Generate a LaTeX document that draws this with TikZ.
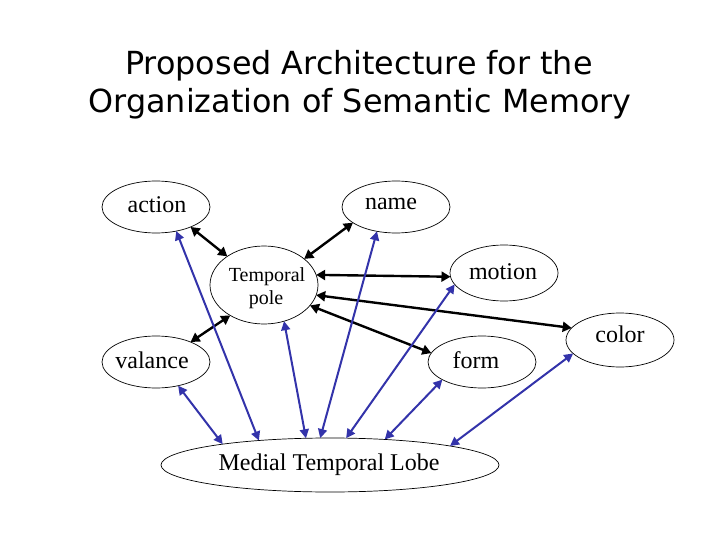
\documentclass[tikz,border=0pt]{standalone}
\usepackage{fontspec}
\setmainfont{Liberation Serif}
\newfontfamily\titlefont{DejaVu Sans}
\usetikzlibrary{arrows.meta,shapes.geometric}
\definecolor{linkblue}{RGB}{51,51,170}
\begin{document}
\begin{tikzpicture}[x=1pt,y=-1pt,
  ell/.style={draw,ellipse,inner sep=0pt,outer sep=0pt,line width=0.7pt,minimum width=108pt,minimum height=52pt},
  lbl/.style={anchor=base,inner sep=0pt,font=\fontsize{24}{28}\selectfont},
  small/.style={anchor=base,inner sep=0pt,font=\fontsize{20}{23}\selectfont},
  ttl/.style={anchor=base,inner sep=0pt,font=\titlefont\fontsize{31.8}{38}\selectfont},
  blk/.style={line width=2.4pt,{Triangle[length=9pt,width=10pt]}-{Triangle[length=9pt,width=10pt]}},
  blu/.style={line width=2pt,draw=linkblue,{Triangle[length=9pt,width=9pt]}-{Triangle[length=9pt,width=9pt]}}]
\useasboundingbox[fill=white] (0,0) rectangle (720,540);
% title
\node[ttl] (title1) at (359,75) {Proposed Architecture for the};
\node[ttl] (title2) at (360,113) {Organization of Semantic Memory};
% ellipses
\node[ell] (action) at (156,207) {};
\node[ell] (name) at (396,207) {};
\node[ell,minimum height=78pt] (tp) at (264,285) {};
\node[ell,minimum height=56pt] (motion) at (504,273) {};
\node[ell,minimum height=54pt] (color) at (620,340) {};
\node[ell] (form) at (482,362) {};
\node[ell] (valance) at (156,362) {};
\node[ell,minimum width=338pt,minimum height=54pt] (mtl) at (330,465) {};
% labels
\node[lbl] (tAction) at (157,213) {action};
\node[lbl] (tName) at (391,210) {name};
\node[small] (tTemporal) at (267,281) {Temporal};
\node[small] (tPole) at (266,304) {pole};
\node[lbl] (tMotion) at (503,279) {motion};
\node[lbl] (tColor) at (620,342) {color};
\node[lbl] (tForm) at (476,368) {form};
\node[lbl] (tValance) at (152,368) {valance};
\node[lbl] (tMtl) at (329,470) {Medial Temporal Lobe};
% black connectors
\draw[blk] (action.-30) -- (tp.142);
\draw[blk] (name.-160) -- (tp.33);
\draw[blk] (tp.11) -- (motion.184);
\draw[blk] (tp.-11) -- (color.166);
\draw[blk] (tp.-24) -- (form.170);
\draw[blk] (valance.30) -- (tp.222);
% blue connectors
\draw[blu] (valance.-47) -- (mtl.169);
\draw[blu] (action.-50) -- (mtl.161);
\draw[blu] (tp.-61) -- (mtl.132);
\draw[blu] (name.-128) -- (mtl.110);
\draw[blu] (motion.193) -- (mtl.59);
\draw[blu] (form.204) -- (mtl.25);
\draw[blu] (color.196) -- (mtl.9.5);
\end{tikzpicture}
\end{document}
